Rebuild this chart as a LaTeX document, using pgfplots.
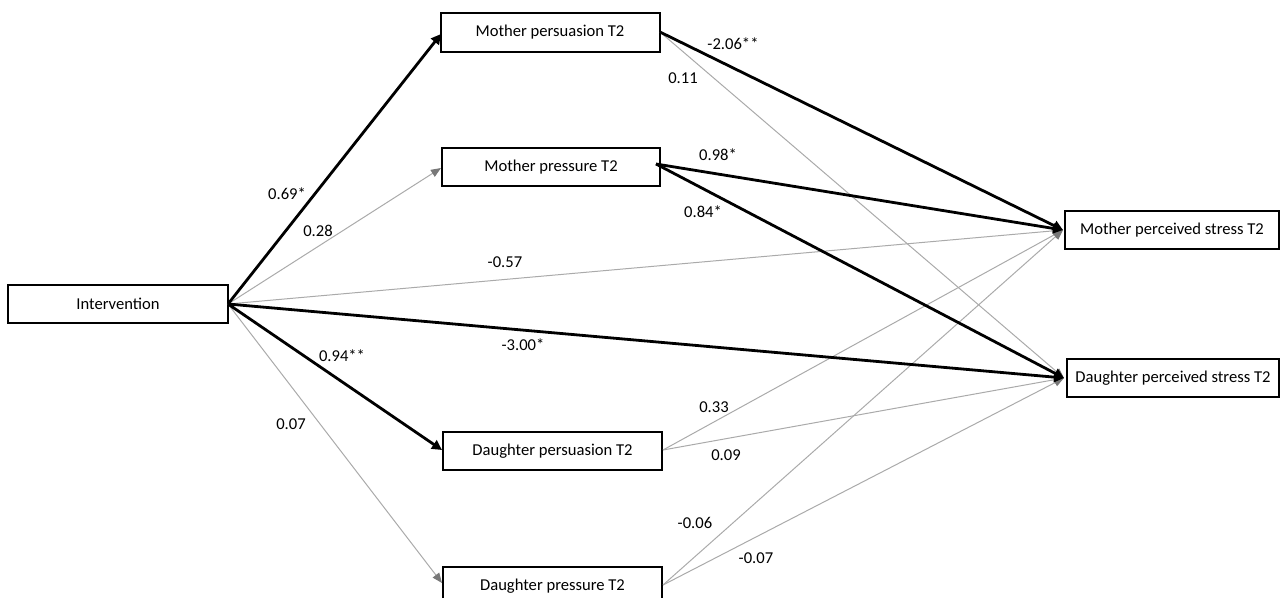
\documentclass[border=0pt]{standalone}
\usepackage{pgfplots}
\pgfplotsset{compat=1.18}
\usepackage{fontspec}
\setmainfont{Carlito}
\usetikzlibrary{arrows.meta}
\definecolor{lgray}{RGB}{170,170,170}
\definecolor{hgray}{RGB}{120,120,120}
\begin{document}
\begin{tikzpicture}
\begin{axis}[
  width=641pt, height=299.5pt, scale only axis,
  xmin=0, xmax=1282, ymin=0, ymax=599, y dir=reverse,
  hide axis, clip=true,
  every axis plot/.append style={no markers},
]
\path (rel axis cs:0,0) rectangle (rel axis cs:1,1);
% boxes
\addplot [black, line width=0.75pt] coordinates {(8,285) (228,285) (228,323) (8,323)} -- cycle;
\addplot [black, line width=0.75pt] coordinates {(441,13) (660,13) (660,52) (441,52)} -- cycle;
\addplot [black, line width=0.75pt] coordinates {(442,148) (660,148) (660,186) (442,186)} -- cycle;
\addplot [black, line width=0.75pt] coordinates {(443,432) (662,432) (662,470) (443,470)} -- cycle;
\addplot [black, line width=0.75pt] coordinates {(443,598) (443,567) (662,567) (662,598)};
\addplot [black, line width=0.75pt] coordinates {(1065,211) (1279,211) (1279,249) (1065,249)} -- cycle;
\addplot [black, line width=0.75pt] coordinates {(1067,359) (1279,359) (1279,397) (1067,397)} -- cycle;
% gray paths
\addplot [lgray, line width=0.5pt, -{Triangle[length=5pt,width=4pt,color=hgray]}] coordinates {(228,304) (441,168)};
\addplot [lgray, line width=0.5pt, -{Triangle[length=5pt,width=4pt,color=hgray]}] coordinates {(228,304) (1063,230)};
\addplot [lgray, line width=0.5pt, -{Triangle[length=5pt,width=4pt,color=hgray]}] coordinates {(228,304) (442,583)};
\addplot [lgray, line width=0.5pt, -{Triangle[length=5pt,width=4pt,color=hgray]}] coordinates {(660,32) (1064,378)};
\addplot [lgray, line width=0.5pt, -{Triangle[length=5pt,width=4pt,color=hgray]}] coordinates {(663,450) (1063,230)};
\addplot [lgray, line width=0.5pt, -{Triangle[length=5pt,width=4pt,color=hgray]}] coordinates {(663,450) (1064,378)};
\addplot [lgray, line width=0.5pt, -{Triangle[length=5pt,width=4pt,color=hgray]}] coordinates {(663,585) (1063,230)};
\addplot [lgray, line width=0.5pt, -{Triangle[length=5pt,width=4pt,color=hgray]}] coordinates {(663,585) (1064,378)};
% black paths
\addplot [black, line width=1.4pt, -{Triangle[length=5pt,width=5pt]}] coordinates {(228,304) (441,34)};
\addplot [black, line width=1.4pt, -{Triangle[length=5pt,width=5pt]}] coordinates {(228,304) (1064,378)};
\addplot [black, line width=1.4pt, -{Triangle[length=5pt,width=5pt]}] coordinates {(228,304) (442,450)};
\addplot [black, line width=1.4pt, -{Triangle[length=5pt,width=5pt]}] coordinates {(660,32) (1063,230)};
\addplot [black, line width=1.4pt, -{Triangle[length=5pt,width=5pt]}] coordinates {(656,164) (1063,230)};
\addplot [black, line width=1.4pt, -{Triangle[length=5pt,width=5pt]}] coordinates {(656,164) (1064,378)};
% box texts
\begin{scope}[every node/.style={font=\fontsize{8.3}{10}\selectfont, inner sep=0pt}]
\node at (118,304) {Intervention};
\node at (550,32.5) {Mother persuasion T2};
\node at (551,167) {Mother pressure T2};
\node at (552.5,451) {Daughter persuasion T2};
\node at (552.5,586) {Daughter pressure T2};
\node at (1172,230) {Mother perceived stress T2};
\node at (1173,378) {Daughter perceived stress T2};
% coefficients
\node at (733,44) {-2.06**};
\node at (683,78) {0.11};
\node at (718,155) {0.98*};
\node at (703,212) {0.84*};
\node at (287,194) {0.69*};
\node at (318,231) {0.28};
\node at (505,262) {-0.57};
\node at (523,345) {-3.00*};
\node at (342,356) {0.94**};
\node at (291,424) {0.07};
\node at (714,407) {0.33};
\node at (726,455) {0.09};
\node at (695,523) {-0.06};
\node at (756,558) {-0.07};
\end{scope}
\end{axis}
\end{tikzpicture}
\end{document}
